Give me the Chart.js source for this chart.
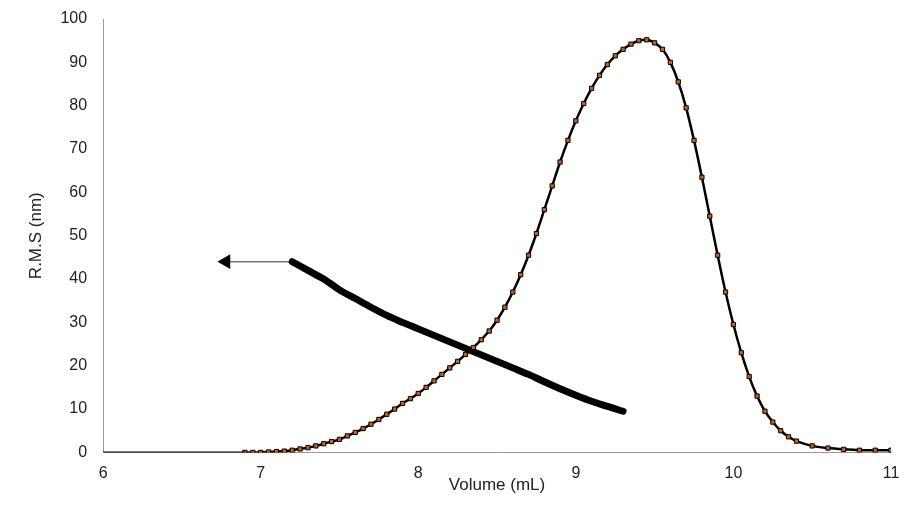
<!DOCTYPE html>
<html lang="en">
<head>
  <meta charset="UTF-8" />
  <title>R.M.S vs Volume</title>
  <script src="https://cdn.jsdelivr.net/npm/chart.js"></script>
  <style>
    body { margin: 0; background: #fff; }
    .wrap { width: 905px; height: 522px; }
  </style>
</head>
<body>
  <div class="wrap"><canvas id="rmsChart"></canvas></div>
  <script>
    // peak curve (orange markers)
    const peakX = [6.9, 6.95, 7.0, 7.05, 7.1, 7.15, 7.2, 7.25, 7.3, 7.35, 7.4, 7.45, 7.5, 7.55, 7.6, 7.65, 7.7, 7.75, 7.8, 7.85, 7.9, 7.95,
      8.0, 8.05, 8.1, 8.15, 8.2, 8.25, 8.3, 8.35, 8.4, 8.45, 8.5, 8.55, 8.6, 8.65, 8.7, 8.75, 8.8, 8.85, 8.9, 8.95,
      9.0, 9.05, 9.1, 9.15, 9.2, 9.25, 9.3, 9.35, 9.4, 9.45, 9.5, 9.55, 9.6, 9.65, 9.7, 9.75, 9.8, 9.85, 9.9, 9.95,
      10.0, 10.05, 10.1, 10.15, 10.2, 10.25, 10.3, 10.35, 10.4, 10.5, 10.6, 10.7, 10.8, 10.9, 11.0];
    const peakY = [0, 0, 0, 0.1, 0.2, 0.3, 0.5, 0.8, 1.1, 1.5, 2, 2.5, 3, 3.8, 4.6, 5.5, 6.5, 7.6, 8.8, 10, 11.3, 12.4,
      13.6, 15, 16.5, 18, 19.5, 21, 22.6, 24.2, 26, 28, 30.5, 33.5, 37, 41, 45.5, 50.5, 56, 61.5, 67, 72,
      76.5, 80.5, 84, 87, 89.5, 91.5, 93, 94.2, 95, 95.2, 94.5, 93, 90, 85.5, 79.5, 72, 63.5, 54.5, 45.5, 37,
      29.5, 23, 17.5, 13, 9.5, 7, 5, 3.6, 2.6, 1.5, 1, 0.7, 0.5, 0.5, 0.5];
    // R.M.S radius
    const rmsX = [7.2, 7.3, 7.4, 7.5, 7.6, 7.7, 7.8, 7.9, 8.0, 8.1, 8.2, 8.3, 8.4, 8.5, 8.6, 8.7, 8.8, 8.9, 9.0, 9.1, 9.2, 9.3];
    const rmsY = [44, 42, 40, 37.5, 35.5, 33.5, 31.6, 30, 28.5, 27, 25.5, 24, 22.5, 21, 19.5, 18, 16.3, 14.7, 13.2, 11.8, 10.6, 9.5];
    const arrowX = [7.2, 6.78];
    const arrowY = [44, 44];
    const baseX = [6, 6.9];
    const baseY = [0, 0];
    const xTicks = [6, 7, 8, 9, 10, 11];

    const pts = (xs, ys) => xs.map((x, i) => ({ x: x, y: ys[i] }));

    new Chart(document.getElementById('rmsChart'), {
      type: 'scatter',
      data: {
        datasets: [
          { data: pts(baseX, baseY), showLine: true, borderColor: '#000', borderWidth: 2, pointRadius: 0 },
          {
            data: pts(peakX, peakY), showLine: true, borderColor: '#000', borderWidth: 2.5, tension: 0.3,
            pointStyle: 'rect', pointRadius: 3, backgroundColor: '#c8601a', pointBorderColor: '#000', pointBorderWidth: 1
          },
          { data: pts(rmsX, rmsY), showLine: true, borderColor: '#000', borderWidth: 7, pointRadius: 0, tension: 0.3, borderCapStyle: 'round' },
          {
            data: pts(arrowX, arrowY), showLine: true, borderColor: '#777', borderWidth: 1.5,
            pointStyle: 'triangle', pointRadius: [0, 7], pointRotation: [0, 270],
            backgroundColor: '#000', pointBorderColor: '#000'
          }
        ]
      },
      options: {
        responsive: true,
        maintainAspectRatio: false,
        animation: false,
        layout: { padding: { top: 19, right: 14, left: 22, bottom: 26 } },
        plugins: { legend: { display: false }, tooltip: { enabled: false } },
        scales: {
          x: {
            type: 'linear', min: 6, max: 11,
            afterBuildTicks: s => { s.ticks = xTicks.map(v => ({ value: v })); },
            grid: { display: false },
            border: { color: '#999' },
            ticks: { color: '#222', font: { family: 'Liberation Sans', size: 16 }, padding: 4 },
            title: { display: true, text: 'Volume (mL)', color: '#222', font: { family: 'Liberation Sans', size: 17 }, padding: { top: -12, bottom: 0 } }
          },
          y: {
            min: 0, max: 100,
            ticks: { stepSize: 10, color: '#222', font: { family: 'Liberation Sans', size: 16 }, padding: 8 },
            grid: { display: false },
            border: { color: '#999' },
            title: { display: true, text: 'R.M.S (nm)', color: '#222', font: { family: 'Liberation Sans', size: 17 }, padding: { bottom: 6 } }
          }
        }
      }
    });
  </script>
</body>
</html>
